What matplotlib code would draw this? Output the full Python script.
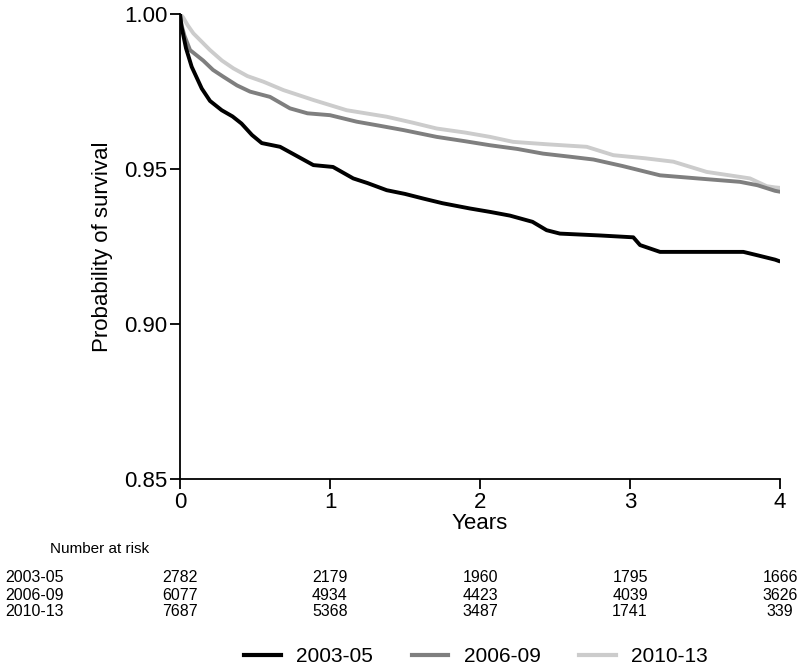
import matplotlib
matplotlib.use("Agg")
import matplotlib.pyplot as plt
from matplotlib.lines import Line2D

plt.rcParams['font.family'] = ['Liberation Sans Narrow', 'Liberation Sans', 'DejaVu Sans']

groups = ["2003-05", "2006-09", "2010-13"]
colors = ["#000000", "#7f7f7f", "#cccccc"]

t_0305 = [0.0, 0.01, 0.04, 0.078, 0.145, 0.2, 0.278, 0.35, 0.41, 0.48, 0.545, 0.667, 0.75, 0.889, 1.02,
          1.155, 1.25, 1.378, 1.5, 1.622, 1.75, 1.933, 2.067, 2.2, 2.35, 2.444, 2.533, 2.8, 3.022, 3.067,
          3.2, 3.756, 3.85, 3.967, 3.99]
s_0305 = [1.0, 0.996, 0.989, 0.983, 0.976, 0.972, 0.969, 0.967, 0.9647, 0.961, 0.9584, 0.9572, 0.955, 0.9513, 0.9507,
          0.947, 0.9455, 0.9432, 0.942, 0.9405, 0.939, 0.9373, 0.9362, 0.935, 0.933, 0.9303, 0.9292, 0.9286, 0.928, 0.9255,
          0.9233, 0.9233, 0.9222, 0.9208, 0.9204]

t_0609 = [0.0, 0.01, 0.03, 0.067, 0.155, 0.22, 0.289, 0.38, 0.467, 0.6, 0.733, 0.85, 1.0, 1.178, 1.33,
          1.489, 1.711, 1.9, 2.067, 2.25, 2.42, 2.6, 2.756, 2.95, 3.2, 3.45, 3.733, 3.85, 3.967, 3.99]
s_0609 = [1.0, 0.9965, 0.993, 0.9884, 0.985, 0.982, 0.9798, 0.977, 0.975, 0.9733, 0.9696, 0.968, 0.9674, 0.9653, 0.964,
          0.9626, 0.9604, 0.959, 0.9577, 0.9565, 0.955, 0.954, 0.9531, 0.951, 0.948, 0.947, 0.9459, 0.9448, 0.943, 0.9428]

t_1013 = [0.0, 0.02, 0.05, 0.089, 0.2, 0.28, 0.356, 0.45, 0.556, 0.689, 0.889, 1.111, 1.378, 1.55, 1.711,
          1.9, 2.067, 2.22, 2.45, 2.711, 2.889, 3.1, 3.289, 3.511, 3.8, 3.911, 3.967, 3.99]
s_1013 = [1.0, 0.999, 0.9965, 0.9938, 0.9884, 0.985, 0.9825, 0.98, 0.9782, 0.9755, 0.9723, 0.969, 0.9669, 0.965, 0.9631,
          0.9618, 0.9604, 0.9588, 0.958, 0.9572, 0.9545, 0.9535, 0.9524, 0.9491, 0.947, 0.9445, 0.9441, 0.944]

risk_times = [0, 1, 2, 3, 4]
risk_0305 = [2782, 2179, 1960, 1795, 1666]
risk_0609 = [6077, 4934, 4423, 4039, 3626]
risk_1013 = [7687, 5368, 3487, 1741, 339]

fig = plt.figure(figsize=(8, 6.72), dpi=100)
ax = fig.add_axes([0.225, 0.287, 0.75, 0.692])

series = [(t_0305, s_0305), (t_0609, s_0609), (t_1013, s_1013)]
for (t, s), c, g in reversed(list(zip(series, colors, groups))):
    ax.plot(t, s, color=c, lw=2.8, label=g, solid_joinstyle='round')

ax.set_xlim(0, 4)
ax.set_ylim(0.85, 1.0)
ax.set_xticks([0, 1, 2, 3, 4])
ax.set_yticks([0.85, 0.90, 0.95, 1.00])
ax.set_yticklabels(["0.85", "0.90", "0.95", "1.00"])
for sp in ["top", "right"]:
    ax.spines[sp].set_visible(False)
for sp in ["left", "bottom"]:
    ax.spines[sp].set_linewidth(1.3)
ax.tick_params(direction='out', length=7, width=1.3, labelsize=16, pad=2)
ax.set_xlabel("Years", fontsize=16, labelpad=0)
ax.set_ylabel("Probability of survival", fontsize=16, labelpad=8)

# Number at risk table
fig.text(50 / 800, 1 - 549 / 672, "Number at risk", fontsize=11, va='center', ha='left')
rows = [risk_0305, risk_0609, risk_1013]
ys = [578, 595, 612]
for g, r, y in zip(groups, rows, ys):
    fig.text(5 / 800, 1 - y / 672, g, fontsize=11.5, va='center', ha='left')
    for tt, n in zip(risk_times, r):
        xd = ax.transData.transform((tt, 0.85))[0]
        xf = fig.transFigure.inverted().transform((xd, 0))[0]
        fig.text(xf, 1 - y / 672, str(n), fontsize=11.5, va='center', ha='center')

handles = [Line2D([0], [0], color=c, lw=3) for c in colors]
fig.legend(handles, groups, loc='center', bbox_to_anchor=(476 / 800, 1 - 657 / 672), ncol=3,
           frameon=False, fontsize=15, handlelength=1.75, columnspacing=1.85, handletextpad=0.75)

fig.savefig("out.png", dpi=100)
